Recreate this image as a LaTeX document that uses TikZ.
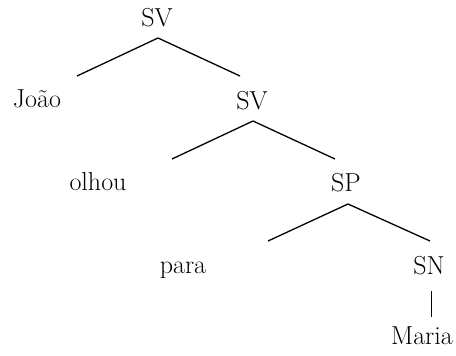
\documentclass[tikz,border=0pt]{standalone}
\begin{document}
\begin{tikzpicture}[x=1pt,y=-1pt,
  lbl/.style={anchor=base,inner sep=0pt,font=\fontsize{26}{30}\selectfont},
  branch/.style={line width=1.3pt,line join=miter},
  bar/.style={line width=0.9pt}]
\useasboundingbox (0,0) rectangle (456,356);
% nodes
\node[lbl] (sv1) at (157,27) {SV};
\node[lbl] (joao) at (37,107) {João};
\node[lbl] (sv2) at (252,109) {SV};
\node[lbl] (olhou) at (98,190) {olhou};
\node[lbl] (sp) at (346,191) {SP};
\node[lbl] (para) at (183,273) {para};
\node[lbl] (sn) at (429,274) {SN};
\node[lbl] (maria) at (422,344) {Maria};
% branch points
\coordinate (a1) at (158,38);
\coordinate (l1) at (77,76);
\coordinate (r1) at (240,76);
\coordinate (a2) at (253,121);
\coordinate (l2) at (172,159);
\coordinate (r2) at (335,159);
\coordinate (a3) at (348,204);
\coordinate (l3) at (268,241);
\coordinate (r3) at (430,241);
\coordinate (t4) at (431,291);
\coordinate (b4) at (431,317);
% connectors
\draw[branch] (l1) -- (a1) -- (r1);
\draw[branch] (l2) -- (a2) -- (r2);
\draw[branch] (l3) -- (a3) -- (r3);
\draw[bar] (t4) -- (b4);
\end{tikzpicture}
\end{document}
